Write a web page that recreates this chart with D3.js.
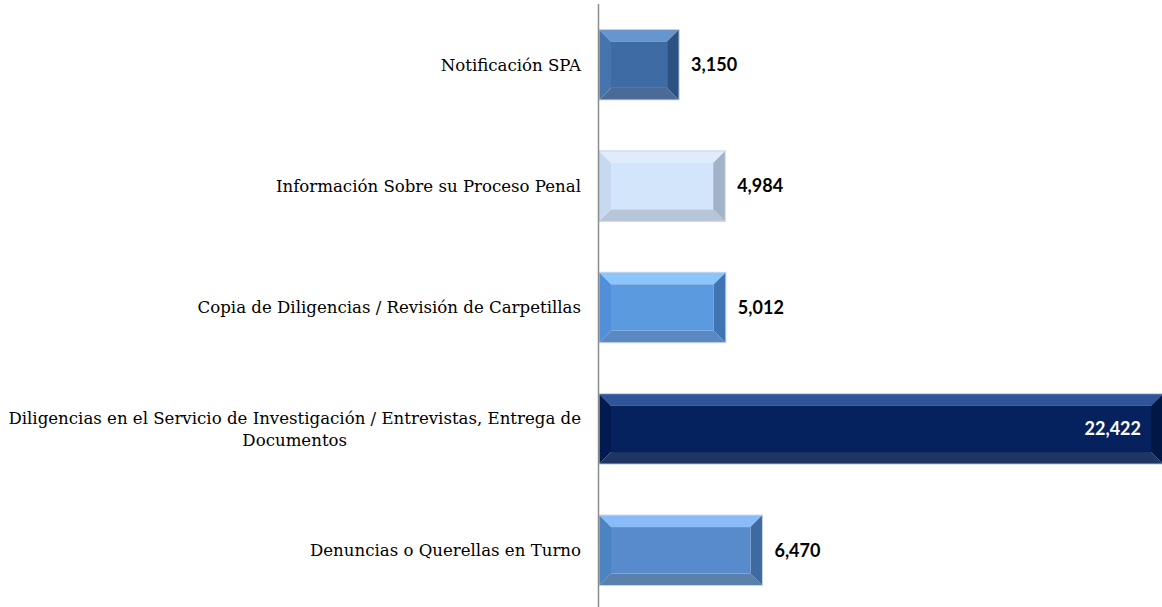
<!DOCTYPE html>
<html>
<head>
<meta charset="utf-8">
<script src="https://cdn.jsdelivr.net/npm/d3@7"></script>
<style>
  body { margin: 0; background: #fff; }
</style>
</head>
<body>
<div id="wrapper"></div>
<script>
const categories = [
  "Notificación SPA",
  "Información Sobre su Proceso Penal",
  "Copia de Diligencias / Revisión de Carpetillas",
  "Diligencias en el Servicio de Investigación / Entrevistas, Entrega de|Documentos",
  "Denuncias o Querellas en Turno"
]
const values = [3150, 4984, 5012, 22422, 6470]
// face colours per bar: center, top, left, right, bottom
const barColors = [
  ["#3e6ba3", "#6796cf", "#4674ae", "#2c5282", "#4b6a98"],
  ["#d3e5fb", "#e0ecfc", "#c7d9f1", "#a2b2c7", "#b6c5d9"],
  ["#5c9ae0", "#8cc5fb", "#5190d8", "#4174b2", "#5b88c1"],
  ["#05225f", "#2f5598", "#021a52", "#011746", "#1f3664"],
  ["#588bcb", "#88bbf8", "#4b83c3", "#3e6a9f", "#5a81ac"]
]

const dimensions = {
  width: 1162,
  height: 607,
  margin: { top: 4, right: 0, bottom: -4, left: 598 }
}
dimensions.boundedWidth = dimensions.width - dimensions.margin.left - dimensions.margin.right
dimensions.boundedHeight = dimensions.height - dimensions.margin.top - dimensions.margin.bottom

const xScale = d3.scaleLinear().domain([0, 22422]).range([0, dimensions.boundedWidth - 1])
const yScale = d3.scaleBand().domain(categories).range([0, dimensions.boundedHeight]).paddingInner(0.42).paddingOuter(0.21)

const svg = d3.select("#wrapper").append("svg")
  .attr("width", dimensions.width)
  .attr("height", dimensions.height)

const bounds = svg.append("g").attr("transform", `translate(${dimensions.margin.left},${dimensions.margin.top})`)

const bevel = 12

categories.forEach((cat, i) => {
  const x0 = 1, x1 = xScale(values[i]) + 2
  const y0 = yScale(cat), y1 = y0 + yScale.bandwidth()
  const c = barColors[i]
  const g = bounds.append("g")
  const poly = pts => g.append("polygon").attr("points", pts.map(p => p.join(",")).join(" "))
  poly([[x0, y0], [x1, y0], [x1 - bevel, y0 + bevel], [x0 + bevel, y0 + bevel]]).attr("fill", c[1])
  poly([[x0, y1], [x1, y1], [x1 - bevel, y1 - bevel], [x0 + bevel, y1 - bevel]]).attr("fill", c[4])
  poly([[x0, y0], [x0 + bevel, y0 + bevel], [x0 + bevel, y1 - bevel], [x0, y1]]).attr("fill", c[2])
  poly([[x1, y0], [x1 - bevel, y0 + bevel], [x1 - bevel, y1 - bevel], [x1, y1]]).attr("fill", c[3])
  g.append("rect")
    .attr("x", x0 + bevel).attr("y", y0 + bevel)
    .attr("width", x1 - x0 - 2 * bevel).attr("height", y1 - y0 - 2 * bevel)
    .attr("fill", c[0])
  g.append("rect")
    .attr("x", x0).attr("y", y0)
    .attr("width", x1 - x0).attr("height", y1 - y0)
    .attr("fill", "none").attr("stroke", "#c4d4e8").attr("stroke-width", 1)

  const inside = values[i] > 15000
  bounds.append("text")
    .attr("x", inside ? x1 - 22 : x1 + 12)
    .attr("y", y0 + yScale.bandwidth() / 2)
    .attr("dy", "0.35em")
    .attr("text-anchor", inside ? "end" : "start")
    .attr("font-family", "Lato, 'Open Sans', sans-serif")
    .attr("font-weight", "bold")
    .attr("font-size", 18)
    .attr("fill", inside ? "#fff" : "#000")
    .text(d3.format(",")(values[i]))
})

// category labels, wrapped lines centered inside a right-aligned block
const labelRight = -17
categories.forEach(cat => {
  const lines = cat.split("|")
  const cy = yScale(cat) + yScale.bandwidth() / 2
  const t = bounds.append("text")
    .attr("font-family", "'DejaVu Serif', serif")
    .attr("font-size", 16.6)
    .attr("fill", "#000")
  const lineH = 22
  lines.forEach((l, k) => {
    t.append("tspan").attr("y", cy + (k - (lines.length - 1) / 2) * lineH).attr("dy", "0.35em").text(l)
  })
  const widths = []
  t.selectAll("tspan").each(function () { widths.push(this.getComputedTextLength()) })
  const maxW = d3.max(widths)
  if (lines.length === 1) {
    t.attr("text-anchor", "end").selectAll("tspan").attr("x", labelRight)
  } else {
    t.attr("text-anchor", "middle").selectAll("tspan").attr("x", labelRight - maxW / 2)
  }
})

// vertical axis line
bounds.append("line")
  .attr("x1", 0.5).attr("x2", 0.5)
  .attr("y1", 0).attr("y2", dimensions.boundedHeight)
  .attr("stroke", "#8c8c8c").attr("stroke-width", 1.5)
</script>
</body>
</html>
